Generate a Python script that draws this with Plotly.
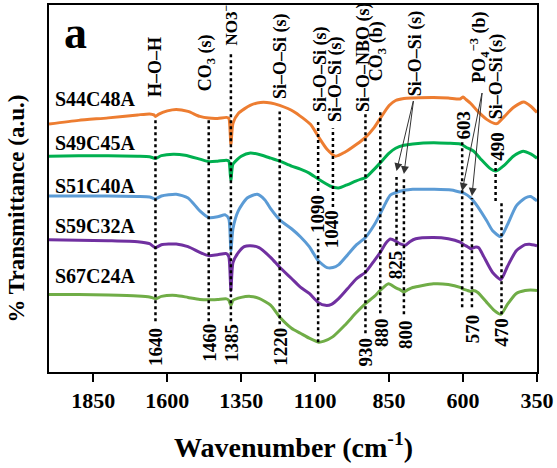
import plotly.graph_objects as go

# ---------------- data (wavenumber in cm-1, transmittance in a.u., stacked) ----------------
wn_s44 = [2000,1900,1800,1700,1660,1645,1640,1630,1600,1570,1530,1490,1460,1430,1400,1392,1385,1378,1360,1320,1285,1250,1220,1173,1116,1090,1060,1031,1000,960,930,900,880,850,828,800,770,700,650,610,600,590,574,550,520,495,483,460,430,395,370,350]
t_s44 = [249.3,253,255.5,258.5,259.5,258.5,257,259,262.5,264,262,257,255.3,255,256,255,229,250,260,268,271,270.5,268,262,249,237,224,217,221,229,236,246,255,268,273,275,275.5,276,275.5,274.5,276.5,274,270,262,254,250,250,257,266,271.5,267,261]

wn_s49 = [2000,1900,1800,1700,1660,1640,1620,1580,1540,1490,1460,1430,1400,1392,1385,1378,1350,1319,1280,1250,1220,1180,1150,1120,1090,1050,1021,990,963,945,930,900,880,850,828,800,770,700,650,610,603,590,564,540,510,489,460,430,397,370,350]
t_s49 = [217,217.5,217.5,217,216.5,214.7,217.5,219,218,214,211.5,212,213,212,192,209,217,220.3,218,215,212,207,204,200,194,187,185,188.5,192,194,195.3,204,210.3,220,225,228,229.3,230.5,230,229.3,228.5,226,222,214,205,202,208,217,222,219,215]

wn_s51 = [2000,1900,1800,1700,1660,1640,1620,1570,1530,1490,1460,1430,1404,1392,1385,1378,1360,1330,1296,1270,1250,1220,1180,1150,1120,1090,1060,1040,1020,990,960,930,900,880,860,845,810,770,700,640,603,595,574,550,520,500,472,450,420,390,372,350]
t_s51 = [177,177,177,176.5,176,174,177,178.7,175,162,155.3,156,158,154,122,144,162,175,178.7,173,164,153,144,136,126,112,105,105,108,118,128,135.3,148,159,171,178,182,183.7,183.7,183,180.3,179.5,175,166,152,142,136,148,167,175,176.5,172]

wn_s59 = [2000,1900,1800,1700,1660,1640,1620,1570,1530,1490,1460,1430,1400,1392,1385,1378,1360,1340,1319,1290,1250,1220,1180,1150,1120,1090,1065,1045,1020,990,960,930,900,880,860,845,825,810,795,780,760,700,650,610,597,585,574,560,547,530,500,472,450,420,390,375,350]
t_s59 = [133,132.5,132,131,129,125,128,128.7,126,120.3,117,118,119,116,82,110,120,126,127,125,115,105.3,94,85.3,79,70,67,68,74,84,94,100.3,112,120.3,130,133.7,131,128.5,127.5,131,134,135.3,134,130.5,128,126,124,125.5,125,116,100,93,106,122,128,128.5,127]

wn_s67 = [2000,1900,1800,1700,1660,1640,1620,1570,1530,1490,1460,1430,1400,1392,1385,1378,1350,1319,1290,1250,1220,1180,1150,1120,1089,1070,1041,1000,960,930,900,880,852,830,815,800,785,770,700,650,610,597,585,574,565,550,520,495,472,450,420,390,372,350]
t_s67 = [78,78,77.5,76.5,75.5,73.7,76,77,75,73,72.7,73,73.5,72,67,72,75,76,74,67,55.3,44,39,34,30,31,35.3,47,60,68.7,76,82,88.7,85,83,80.5,83,85,88.7,88,85,83,82,81,82,80,70,62,58,68,79,82,82.5,82]

series_names = ["S44C48A", "S49C45A", "S51C40A", "S59C32A", "S67C24A"]
series_colors = ["#ED7D31", "#00B050", "#5B9BD5", "#7030A0", "#70AD47"]
series_label_y = [274, 230, 187, 147, 97]

# band markers: wavenumber, top and bottom of the dotted line (a.u.)
band_wn = [1640, 1460, 1385, 1220, 1090, 1090, 1040, 930, 880, 825, 800, 603, 570, 490, 470]
band_top = [256, 254, 320, 262, 252, 134, 245, 260, 264, 196, 196, 232, 175, 212, 172]
band_bot = [51, 51, 51, 48, 182, 30, 166, 39, 59, 127, 58, 65, 65, 172, 58]

# assignment labels (rotated), anchored at their lower end
assign_text = ["H–O–H", "CO<sub>3</sub> (s)", "NO3<sup>−</sup>", "Si–O–Si (s)", "Si–O–Si (s)", "Si–O–Si (s)",
               "Si–O–NBO (s)", "CO<sub>3</sub> (b)", "Si–O–Si (s)", "PO<sub>4</sub><sup>−3</sup> (b)", "Si–O–Si (s)"]
assign_wn = [1640, 1468, 1387, 1217, 1082, 1031, 936, 889, 760, 547, 489]
assign_y = [275, 280, 326, 272, 259, 249, 259, 290, 275, 289, 252]
assign_size = [18, 18, 17, 18, 18, 18, 18, 18, 18, 18, 18]

# wavenumber labels (rotated), centred
num_text = ["603", "490", "1090", "1040", "825", "1640", "1460", "1385", "1220", "930", "880", "800", "570", "470"]
num_wn = [598, 482, 1092, 1045, 828, 1640, 1460, 1385, 1220, 930, 878, 797, 570, 470]
num_y = [248.5, 227.5, 158.5, 144, 108, 25.5, 29, 29, 25, 20, 40, 38, 44, 40]

# arrows: (start wn, start y) -> (tip wn, tip y)
arrow_from = [(767, 274), (767, 274), (535, 282), (535, 282)]
arrow_to = [(825, 202), (800, 199), (603, 182), (570, 177)]

x_ticks = [1850, 1600, 1350, 1100, 850, 600, 350]

FONT = "Liberation Serif, Times New Roman, Times, serif"

# ---------------- figure ----------------
fig = go.Figure()
all_wn = [wn_s44, wn_s49, wn_s51, wn_s59, wn_s67]
all_t = [t_s44, t_s49, t_s51, t_s59, t_s67]
for name, wn, t, c in zip(series_names, all_wn, all_t, series_colors):
    fig.add_trace(go.Scatter(x=wn, y=t, mode="lines", name=name,
                             line=dict(color=c, width=3, shape="spline", smoothing=0.6),
                             showlegend=False, hoverinfo="skip"))

shapes = []
for w, t0, b0 in zip(band_wn, band_top, band_bot):
    shapes.append(dict(type="line", xref="x", yref="y", x0=w, x1=w, y0=b0, y1=t0,
                       line=dict(color="black", width=2.5, dash="dot")))

annotations = []
for name, yy in zip(series_names, series_label_y):
    annotations.append(dict(x=0.008, xref="paper", y=yy, yref="y", text="<b>" + name + "</b>", showarrow=False,
                            xanchor="left", yanchor="middle",
                            font=dict(family=FONT, size=20, color="black")))
for txt, w, yy, fs in zip(assign_text, assign_wn, assign_y, assign_size):
    annotations.append(dict(x=w, y=yy, xref="x", yref="y", text="<b>" + txt + "</b>", showarrow=False, textangle=-90,
                            xanchor="center", yanchor="bottom",
                            font=dict(family=FONT, size=fs, color="black")))
for txt, w, yy in zip(num_text, num_wn, num_y):
    annotations.append(dict(x=w, y=yy, xref="x", yref="y", text="<b>" + txt + "</b>", showarrow=False, textangle=-90,
                            xanchor="center", yanchor="middle",
                            font=dict(family=FONT, size=19, color="black")))
for (sx, sy), (tx, ty) in zip(arrow_from, arrow_to):
    annotations.append(dict(x=tx, y=ty, xref="x", yref="y", ax=sx, ay=sy, axref="x", ayref="y",
                            text="", showarrow=True, arrowhead=2, arrowsize=1.6, arrowwidth=1,
                            arrowcolor="#333333"))

annotations.append(dict(x=0.055, y=0.924, xref="paper", yref="paper", text="<b>a</b>", showarrow=False,
                        xanchor="center", yanchor="middle",
                        font=dict(family=FONT, size=46, color="black")))
annotations.append(dict(x=-0.066, y=0.445, xref="paper", yref="paper", text="<b>% Transmittance (a.u.)</b>",
                        showarrow=False, textangle=-90, xanchor="center", yanchor="middle",
                        font=dict(family=FONT, size=23, color="black")))
annotations.append(dict(x=0.5, y=-0.2, xref="paper", yref="paper", text="<b>Wavenumber (cm<sup>-1</sup>)</b>",
                        showarrow=False, xanchor="center", yanchor="middle",
                        font=dict(family=FONT, size=28, color="black")))

fig.update_layout(
    width=557, height=468,
    margin=dict(l=49, r=20, t=3, b=96),
    paper_bgcolor="white", plot_bgcolor="white",
    shapes=shapes, annotations=annotations,
    xaxis=dict(range=[2000, 350], tickvals=x_ticks, ticktext=["<b>%d</b>" % v for v in x_ticks],
               ticks="outside", ticklen=8, tickwidth=1.5, tickcolor="black",
               showgrid=False, zeroline=False, showline=True, mirror=True,
               linecolor="black", linewidth=2,
               tickfont=dict(family=FONT, size=22, color="black")),
    yaxis=dict(range=[0, 369], showticklabels=False, ticks="", showgrid=False, zeroline=False,
               showline=True, mirror=True, linecolor="black", linewidth=2),
)

fig.write_html("out.html")
